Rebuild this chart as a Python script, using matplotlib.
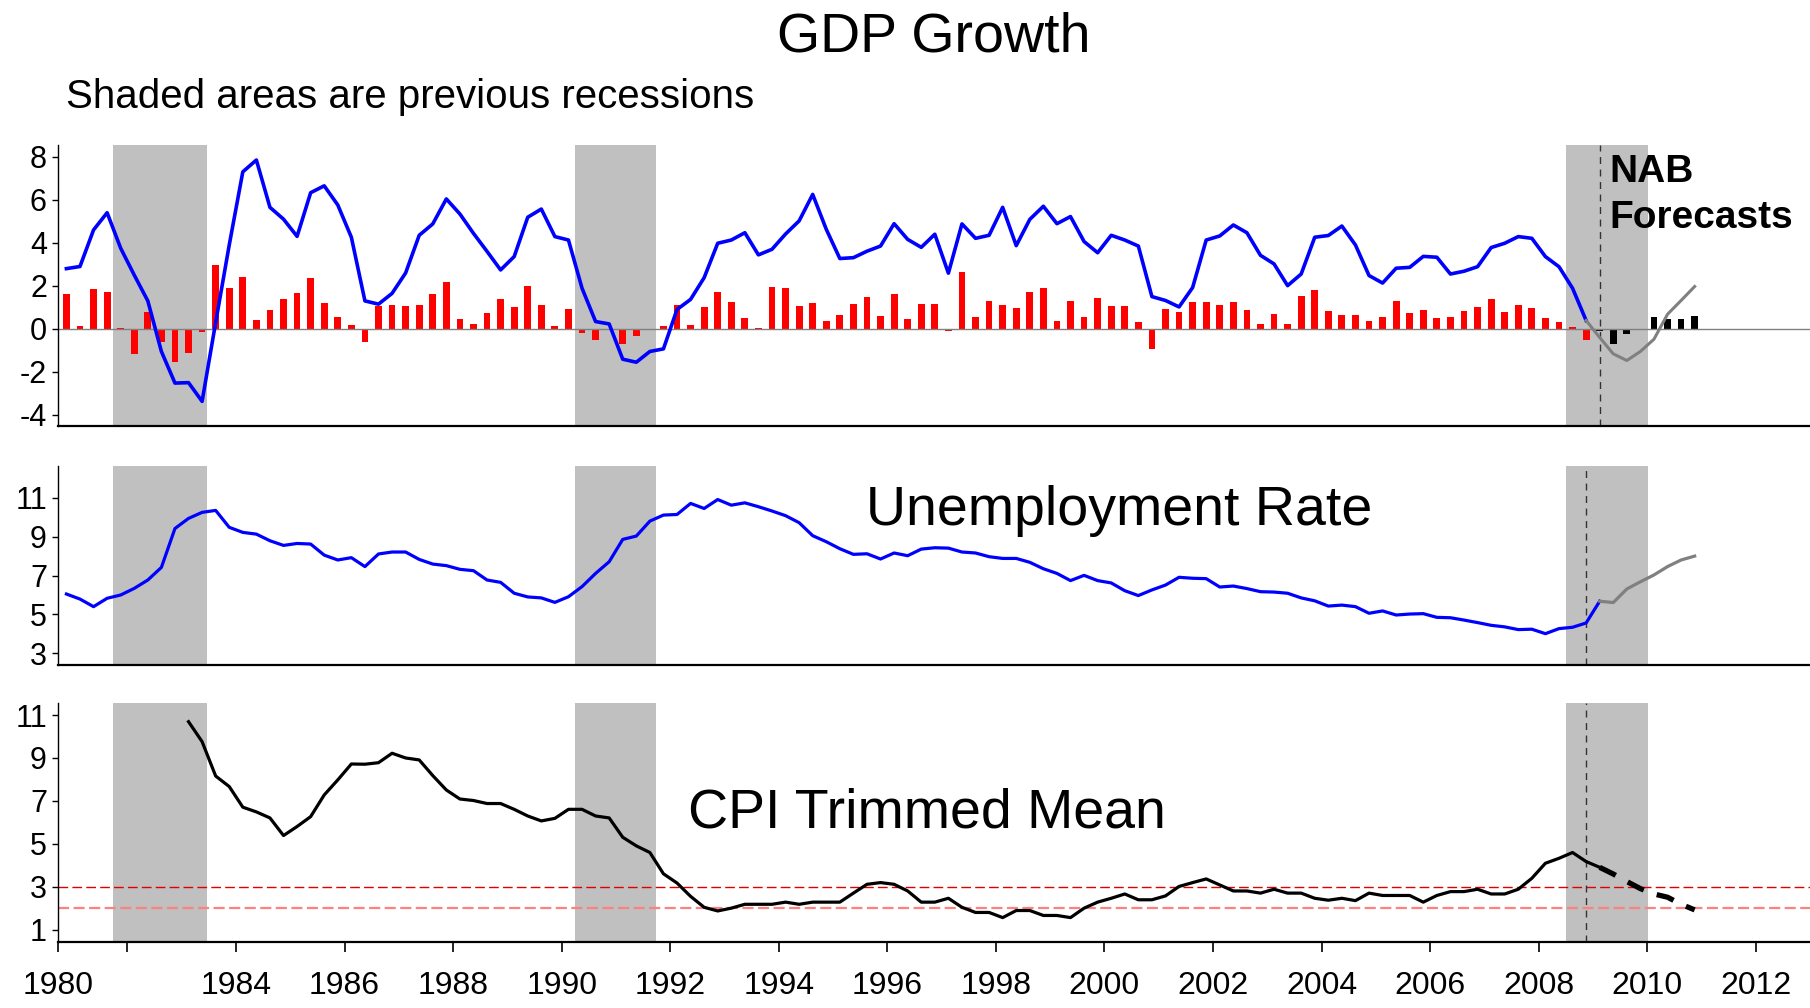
import numpy as np
import pandas as pd
import matplotlib
matplotlib.use('Agg')
import matplotlib.pyplot as plt

plt.rcParams['font.family'] = ['Liberation Sans', 'DejaVu Sans']
plt.rcParams['axes.unicode_minus'] = False

# quarterly series, first observation is the Dec quarter 1980
first_qtr = '1980Q4'

# GDP, year-ended % change (line) and quarterly % change (bars), 1980Q4-2008Q4
gdp_yoy = [2.8, 2.9, 4.6, 5.4, 3.75, 2.5, 1.3, -1.05, -2.52, -2.5,
           -3.37, 0.3, 3.9, 7.3, 7.85, 5.65, 5.1, 4.3, 6.33, 6.65,
           5.76, 4.26, 1.3, 1.15, 1.65, 2.6, 4.35, 4.88, 6.04, 5.34,
           4.44, 3.6, 2.74, 3.36, 5.19, 5.57, 4.29, 4.13, 1.89, 0.34,
           0.23, -1.41, -1.55, -1.05, -0.93, 0.9, 1.37, 2.38, 3.98, 4.13,
           4.47, 3.44, 3.7, 4.41, 5.02, 6.25, 4.63, 3.27, 3.31, 3.61,
           3.85, 4.89, 4.16, 3.79, 4.4, 2.59, 4.88, 4.21, 4.35, 5.65,
           3.87, 5.09, 5.7, 4.89, 5.22, 4.06, 3.54, 4.35, 4.13, 3.85,
           1.5, 1.32, 1.02, 1.92, 4.13, 4.32, 4.83, 4.47, 3.42, 3.02,
           2.01, 2.55, 4.26, 4.34, 4.78, 3.9, 2.48, 2.13, 2.82, 2.86,
           3.37, 3.33, 2.55, 2.68, 2.89, 3.78, 3.98, 4.29, 4.21, 3.36,
           2.89, 1.89, 0.39]
gdp_qoq = [1.63, 0.14, 1.86, 1.72, 0.05, -1.16, 0.79, -0.63, -1.52, -1.1,
           -0.14, 2.97, 1.9, 2.41, 0.42, 0.88, 1.39, 1.67, 2.37, 1.21,
           0.54, 0.19, -0.6, 1.08, 1.11, 1.07, 1.11, 1.63, 2.18, 0.46,
           0.23, 0.74, 1.38, 1.02, 2.01, 1.11, 0.14, 0.93, -0.17, -0.5,
           0.0, -0.71, -0.31, 0.0, 0.14, 1.11, 0.16, 1.02, 1.72, 1.25,
           0.51, 0.05, 1.95, 1.9, 1.07, 1.21, 0.37, 0.65, 1.16, 1.49,
           0.6, 1.63, 0.46, 1.16, 1.16, -0.12, 2.65, 0.56, 1.3, 1.11,
           0.98, 1.72, 1.9, 0.37, 1.3, 0.56, 1.44, 1.07, 1.07, 0.33,
           -0.93, 0.93, 0.79, 1.25, 1.25, 1.11, 1.25, 0.88, 0.23, 0.7,
           0.23, 1.53, 1.81, 0.84, 0.65, 0.65, 0.37, 0.54, 1.3, 0.74,
           0.88, 0.51, 0.56, 0.84, 1.02, 1.39, 0.79, 1.11, 0.98, 0.51,
           0.33, 0.09, -0.54]
# NAB forecasts
gdp_yoy_fc = [0.39, -0.4, -1.16, -1.47, -1.05, -0.48, 0.68, 1.32, 1.97]  # 2008Q4-2010Q4
gdp_qoq_fc = [-0.1, -0.68, -0.22, -0.03, 0.56, 0.46, 0.46, 0.6]  # 2009Q1-2010Q4

# unemployment rate, 1980Q4-2009Q1, forecast 2009Q1-2010Q4
unemp = [6.05, 5.79, 5.4, 5.83, 6.0, 6.34, 6.77, 7.42, 9.42, 9.94,
         10.25, 10.35, 9.48, 9.22, 9.13, 8.79, 8.55, 8.65, 8.62, 8.05,
         7.8, 7.92, 7.46, 8.11, 8.21, 8.21, 7.83, 7.59, 7.51, 7.32,
         7.25, 6.77, 6.65, 6.09, 5.9, 5.85, 5.62, 5.91, 6.43, 7.11,
         7.71, 8.86, 9.03, 9.8, 10.11, 10.14, 10.71, 10.45, 10.91, 10.62,
         10.74, 10.54, 10.32, 10.08, 9.72, 9.05, 8.74, 8.38, 8.09, 8.12,
         7.85, 8.16, 8.02, 8.36, 8.43, 8.41, 8.21, 8.16, 7.97, 7.88,
         7.88, 7.68, 7.35, 7.11, 6.74, 7.01, 6.74, 6.62, 6.22, 5.97,
         6.26, 6.51, 6.91, 6.86, 6.84, 6.41, 6.46, 6.33, 6.17, 6.15,
         6.09, 5.85, 5.7, 5.43, 5.48, 5.4, 5.06, 5.18, 4.97, 5.02,
         5.04, 4.85, 4.83, 4.71, 4.58, 4.44, 4.36, 4.22, 4.24, 4.01,
         4.27, 4.34, 4.56, 5.68]
unemp_fc = [5.68, 5.61, 6.31, 6.68, 7.03, 7.46, 7.8, 8.0]

# CPI trimmed mean, year-ended %, 1983Q1-2009Q1, forecast 2009Q1-2010Q4
cpi_first_qtr = '1983Q1'
cpi = [10.69, 9.76, 8.16, 7.67, 6.71, 6.49, 6.21, 5.39, 5.81, 6.27,
       7.28, 7.98, 8.72, 8.71, 8.78, 9.22, 9.0, 8.91, 8.18, 7.51,
       7.09, 7.02, 6.88, 6.88, 6.61, 6.3, 6.07, 6.19, 6.61, 6.61,
       6.3, 6.21, 5.31, 4.91, 4.6, 3.61, 3.18, 2.56, 2.05, 1.88,
       2.01, 2.19, 2.19, 2.19, 2.29, 2.19, 2.29, 2.29, 2.29, 2.71,
       3.12, 3.2, 3.12, 2.81, 2.29, 2.29, 2.47, 2.05, 1.81, 1.81,
       1.57, 1.9, 1.9, 1.67, 1.67, 1.57, 2.01, 2.29, 2.47, 2.67,
       2.4, 2.4, 2.58, 3.02, 3.2, 3.37, 3.09, 2.81, 2.81, 2.71,
       2.89, 2.71, 2.71, 2.47, 2.38, 2.47, 2.36, 2.71, 2.6, 2.6,
       2.6, 2.29, 2.6, 2.78, 2.78, 2.89, 2.67, 2.67, 2.89, 3.4,
       4.1, 4.33, 4.6, 4.18, 3.91]
cpi_fc = [3.91, 3.6, 3.25, 2.92, 2.67, 2.52, 2.19, 1.93]

target_band = [3, 2]
recessions = [(1981.73, 1983.47), (1990.24, 1991.74), (2008.51, 2010.01)]

x_left, x_right = 1980.72, 2013.0
year_ticks = list(range(1982, 2013, 2))


def qtr_x(start, n):
  """Mid-quarter position (in years) of n quarters from start"""
  p = pd.period_range(start, periods=n, freq='Q')
  return np.asarray(p.year + (p.quarter - 0.5) / 4.0)


def style_axis(ax, ylim, yticks):
  ax.set_xlim(x_left, x_right)
  ax.set_ylim(*ylim)
  ax.set_yticks(yticks)
  for s in ['top', 'right']:
    ax.spines[s].set_visible(False)
  ax.spines['left'].set_linewidth(1.0)
  ax.spines['bottom'].set_linewidth(1.6)
  ax.tick_params(axis='y', labelsize=22, length=4, width=1, pad=4)
  ax.tick_params(axis='x', bottom=False, labelbottom=False)
  for a, b in recessions:
    ax.axvspan(a, b, color='#c0c0c0', lw=0, zorder=0)


fig = plt.figure(figsize=(18.1, 10.08), dpi=100)
left = 58 / 1810
width = 1 - left
ax1 = fig.add_axes([left, 0.5777, width, 0.2785])
ax2 = fig.add_axes([left, 0.3403, width, 0.1977])
ax3 = fig.add_axes([left, 0.0658, width, 0.2368])

# GDP growth
style_axis(ax1, (-4.5, 8.55), [-4, -2, 0, 2, 4, 6, 8])
x_gdp = qtr_x(first_qtr, len(gdp_yoy))
x_gdp_fc = qtr_x('2008Q4', len(gdp_yoy_fc))
x_bar_fc = qtr_x('2009Q1', len(gdp_qoq_fc))
ax1.bar(x_gdp, gdp_qoq, width=0.125, color='#ff0000', zorder=2)
ax1.bar(x_bar_fc, gdp_qoq_fc, width=0.125, color='black', zorder=2)
ax1.axhline(0, color='#808080', lw=1, zorder=2.5)
ax1.plot(x_gdp, gdp_yoy, color='#0000ff', lw=2.6, zorder=3)
ax1.plot(x_gdp_fc, gdp_yoy_fc, color='#808080', lw=2.2, zorder=3)
ax1.axvline(x_bar_fc[0], color='#333333', lw=1, dashes=(5, 4), zorder=2)
ax1.text(0.8855, 0.869, 'NAB', transform=ax1.transAxes, fontsize=28,
         fontweight='bold', va='baseline')
ax1.text(0.8855, 0.703, 'Forecasts', transform=ax1.transAxes, fontsize=28,
         fontweight='bold', va='baseline')

# unemployment
style_axis(ax2, (2.4, 12.65), [3, 5, 7, 9, 11])
x_un = qtr_x(first_qtr, len(unemp))
x_un_fc = qtr_x('2009Q1', len(unemp_fc))
ax2.axvline(x_un[-2], color='#333333', lw=1, dashes=(5, 4), zorder=2)
ax2.plot(x_un, unemp, color='#0000ff', lw=2.3, zorder=3)
ax2.plot(x_un_fc, unemp_fc, color='#808080', lw=2.3, zorder=3)
ax2.text(0.4612, 0.702, 'Unemployment Rate', transform=ax2.transAxes,
         fontsize=40, va='baseline')

# CPI trimmed mean
style_axis(ax3, (0.45, 11.56), [1, 3, 5, 7, 9, 11])
x_cpi = qtr_x(cpi_first_qtr, len(cpi))
x_cpi_fc = qtr_x('2009Q1', len(cpi_fc))
ax3.axhline(target_band[0], color='#e00000', lw=1.0, dashes=(7, 3), zorder=1)
ax3.axhline(target_band[1], color='#ff8080', lw=1.6, dashes=(5, 2), zorder=1)
ax3.axvline(x_cpi[-2], color='#333333', lw=1, dashes=(5, 4), zorder=2)
ax3.plot(x_cpi, cpi, color='black', lw=2.3, zorder=3)
ax3.plot(x_cpi_fc, cpi_fc, color='black', lw=3.8, dashes=(3.4, 2.6), zorder=3)
ax3.text(0.3596, 0.478, 'CPI Trimmed Mean', transform=ax3.transAxes,
         fontsize=40, va='baseline')
ax3.set_xticks([x_left] + year_ticks)
ax3.set_xticklabels(['1980', ''] + [str(y) for y in year_ticks[1:]])
ax3.tick_params(axis='x', bottom=True, labelbottom=True, labelsize=23,
                length=7, width=1.2, pad=14)

fig.text(0.516, 1 - 52 / 1008, 'GDP Growth', fontsize=40, ha='center',
         va='baseline')
fig.text(65.8 / 1810, 1 - 108.5 / 1008, 'Shaded areas are previous recessions',
         fontsize=29, va='baseline')

plt.savefig('out.png', dpi=100)
